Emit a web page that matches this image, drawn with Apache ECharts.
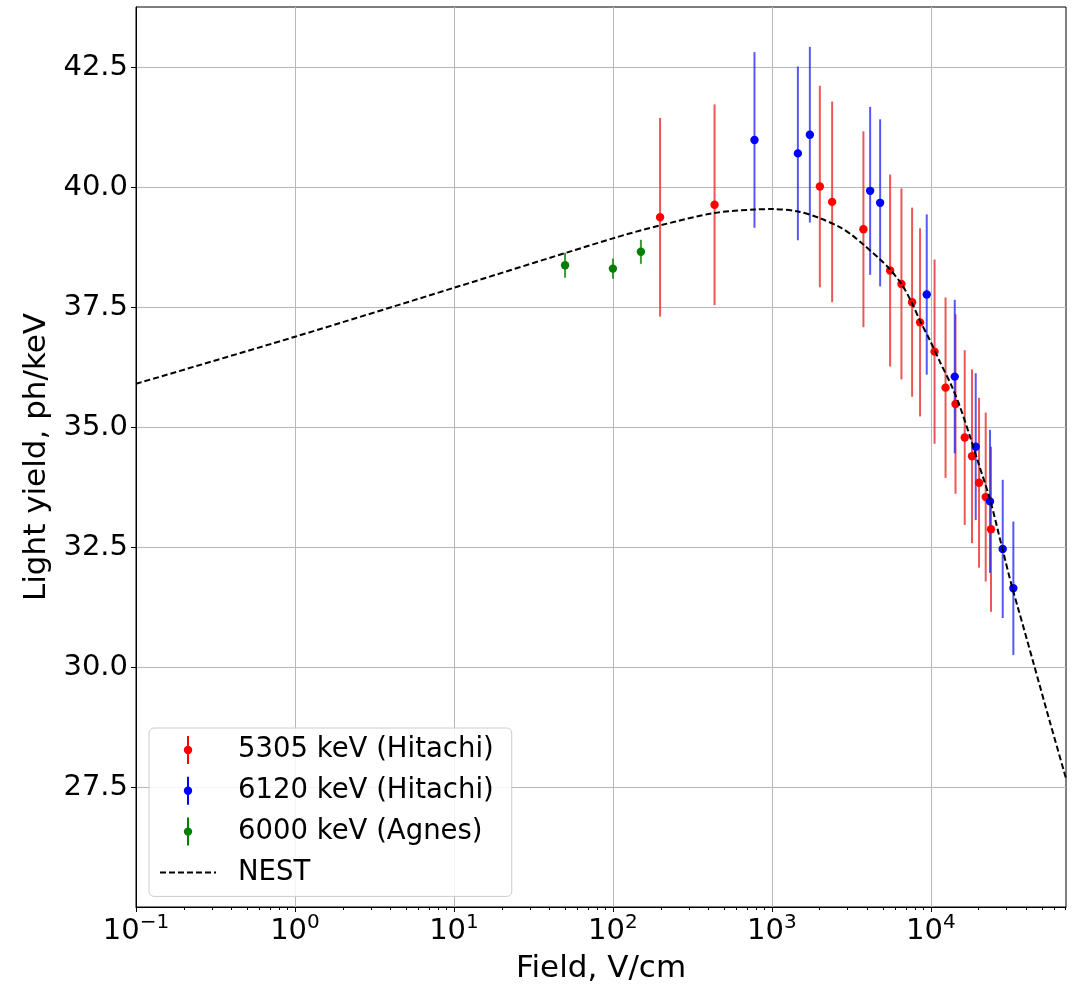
<!DOCTYPE html>
<html>
<head>
<meta charset="utf-8">
<script src="https://cdn.jsdelivr.net/npm/echarts@6/dist/echarts.min.js"></script>
<style>
html, body { margin: 0; padding: 0; background: #fff; }
#chart { width: 1074px; height: 989px; }
</style>
</head>
<body>
<div id="chart"></div>
<script>
// ---------- data ----------
const redName = '5305 keV (Hitachi)';
const redField = [198, 436, 2003, 2393, 3765, 5542, 6529, 7620, 8550, 10550, 12370, 14290, 16330, 18150, 20090, 22130, 23890];
const redLY    = [39.37, 39.63, 40.01, 39.69, 39.12, 38.26, 37.98, 37.60, 37.18, 36.57, 35.82, 35.48, 34.78, 34.39, 33.84, 33.54, 32.87];
const redErr   = [2.07, 2.09, 2.10, 2.09, 2.04, 2.00, 1.99, 1.97, 1.96, 1.92, 1.88, 1.87, 1.82, 1.81, 1.77, 1.76, 1.72];

const blueName = '6120 keV (Hitachi)';
const blueField = [777, 1457, 1733, 4150, 4797, 9420, 14130, 19150, 23560, 28310, 33030];
const blueLY    = [40.98, 40.70, 41.09, 39.92, 39.67, 37.76, 36.05, 34.59, 33.45, 32.46, 31.64];
const blueErr   = [1.83, 1.81, 1.83, 1.75, 1.74, 1.67, 1.60, 1.53, 1.49, 1.44, 1.39];

const greenName = '6000 keV (Agnes)';
const greenField = [50, 100, 150];
const greenLY    = [38.37, 38.30, 38.65];
const greenErr   = [0.26, 0.21, 0.25];

const nestName = 'NEST';
const nestField = [0.1, 1, 10, 100, 198, 436, 777, 1000, 1457, 2004, 2687, 3184, 3765, 4797, 5542, 6561, 7586, 8550, 9886, 11430, 13530, 15250, 17630, 19900, 23560, 27910, 32210, 35480, 44060, 56120, 70800];
const nestLY    = [35.90, 36.88, 37.90, 38.93, 39.20, 39.46, 39.53, 39.54, 39.49, 39.35, 39.16, 39.00, 38.80, 38.49, 38.28, 37.97, 37.59, 37.21, 36.80, 36.35, 35.85, 35.42, 34.80, 34.25, 33.49, 32.52, 31.70, 31.21, 30.10, 28.85, 27.68];

// ---------- axis ticks ----------
const xMajorTicks = [0.1, 1, 10, 100, 1000, 10000];
const xMinorTicks = [0.2, 0.3, 0.4, 0.5, 0.6, 0.7, 0.8, 0.9,
  2, 3, 4, 5, 6, 7, 8, 9,
  20, 30, 40, 50, 60, 70, 80, 90,
  200, 300, 400, 500, 600, 700, 800, 900,
  2000, 3000, 4000, 5000, 6000, 7000, 8000, 9000,
  20000, 30000, 40000, 50000, 60000, 70000];
const yTicks = [27.5, 30, 32.5, 35, 37.5, 40, 42.5];
const xMin = 0.1, xMax = 70800;
const yMin = 25, yMax = 43.75;

const FONT = 'DejaVu Sans';

function rows(xs, ys, es) { return xs.map((x, i) => es ? [x, ys[i], es[i]] : [x, ys[i]]); }

function errSeries(name, xs, ys, es, color, ecolor) {
  return {
    name: name,
    type: 'custom',
    xAxisIndex: 0, yAxisIndex: 0,
    encode: { x: 0, y: 1 },
    itemStyle: { color: color },
    z: 3,
    data: rows(xs, ys, es),
    renderItem: function (params, api) {
      const x = api.value(0), y = api.value(1), e = api.value(2);
      const t = api.coord([x, y + e]);
      const b = api.coord([x, y - e]);
      const c = api.coord([x, y]);
      return {
        type: 'group',
        children: [
          { type: 'line', z2: 1, shape: { x1: t[0], y1: t[1], x2: b[0], y2: b[1] }, style: { stroke: ecolor, lineWidth: 2 } },
          { type: 'circle', z2: 5, shape: { cx: c[0], cy: c[1], r: 4.2 }, style: { fill: color } }
        ]
      };
    }
  };
}

const errIcon = 'path://M0,0 M56,28 M27,0 L29,0 L29,28 L27,28 Z M23.8,14 A4.2,4.2 0 1 1 32.2,14 A4.2,4.2 0 1 1 23.8,14 Z';

function pow10Label(v) {
  const e = Math.round(Math.log10(v));
  const s = e < 0 ? '\u2212' + (-e) : String(e);
  return '{b|10}{s|' + s + '}';
}

const chart = echarts.init(document.getElementById('chart'), null, { renderer: 'canvas' });

chart.setOption({
  animation: false,
  backgroundColor: '#fff',
  grid: { left: 136, right: 8, top: 7, bottom: 76, show: true, borderColor: '#000', borderWidth: 1, backgroundColor: 'transparent' },
  xAxis: [{
    type: 'log', logBase: 10, min: xMin, max: xMax,
    name: 'Field, V/cm', nameLocation: 'middle', nameGap: 46,
    nameTextStyle: { fontFamily: FONT, fontSize: 31, color: '#000' },
    axisLine: { show: true, lineStyle: { color: '#000', width: 1 } },
    axisTick: { show: true, length: 5, customValues: xMajorTicks, lineStyle: { color: '#000', width: 1 } },
    axisLabel: {
      show: true, customValues: xMajorTicks, margin: 6,
      formatter: pow10Label,
      rich: {
        b: { fontFamily: FONT, fontSize: 29, color: '#000', lineHeight: 33, verticalAlign: 'bottom' },
        s: { fontFamily: FONT, fontSize: 20, color: '#000', verticalAlign: 'top' }
      }
    },
    splitLine: { show: true, lineStyle: { color: '#b8b8b8', width: 1 } },
    minorTick: { show: false }
  }, {
    type: 'log', logBase: 10, min: xMin, max: xMax, position: 'bottom',
    axisLine: { show: false },
    axisTick: { show: true, length: 3, customValues: xMinorTicks, lineStyle: { color: '#000', width: 1 } },
    axisLabel: { show: false },
    splitLine: { show: false }
  }],
  yAxis: {
    type: 'value', min: yMin, max: yMax, interval: 2.5,
    name: 'Light yield, ph/keV', nameLocation: 'middle', nameGap: 83,
    nameTextStyle: { fontFamily: FONT, fontSize: 31, color: '#000' },
    axisLine: { show: true, lineStyle: { color: '#000', width: 1 } },
    axisTick: { show: true, length: 5, customValues: yTicks, lineStyle: { color: '#000', width: 1 } },
    axisLabel: {
      show: true, customValues: yTicks, margin: 8,
      fontFamily: FONT, fontSize: 29, color: '#000',
      formatter: function (v) { return v.toFixed(1); }
    },
    splitLine: { show: true, lineStyle: { color: '#b8b8b8', width: 1 } }
  },
  legend: {
    orient: 'vertical', left: 149, top: 728,
    itemWidth: 56, itemHeight: 28, itemGap: 12.8,
    padding: [8, 18, 10, 10],
    backgroundColor: 'rgba(255,255,255,0.85)', borderColor: '#cccccc', borderWidth: 1, borderRadius: 5,
    textStyle: { fontFamily: FONT, fontSize: 27.5, lineHeight: 28, color: '#000', padding: [0, 0, 0, 17] },
    selectedMode: false,
    data: [
      { name: redName, icon: errIcon, itemStyle: { color: '#ff0000' } },
      { name: blueName, icon: errIcon, itemStyle: { color: '#0000ff' } },
      { name: greenName, icon: errIcon, itemStyle: { color: '#008000' } },
      { name: nestName, itemStyle: { color: 'rgba(0,0,0,0)', borderWidth: 0, borderColor: 'rgba(0,0,0,0)' } }
    ]
  },
  series: [
    errSeries(redName, redField, redLY, redErr, '#ff0000', 'rgba(235,40,40,0.78)'),
    errSeries(blueName, blueField, blueLY, blueErr, '#0000ff', 'rgba(40,40,245,0.78)'),
    errSeries(greenName, greenField, greenLY, greenErr, '#008000', 'rgba(0,128,0,0.78)'),
    {
      name: nestName, type: 'line', xAxisIndex: 0, yAxisIndex: 0,
      data: rows(nestField, nestLY),
      showSymbol: false, symbol: 'none', smooth: 0.3, z: 4,
      lineStyle: { color: '#000', width: 2, type: [6, 3] },
      itemStyle: { color: 'rgba(0,0,0,0)' }
    }
  ]
});
</script>
</body>
</html>
